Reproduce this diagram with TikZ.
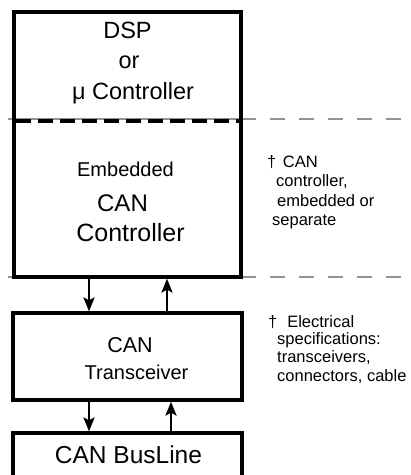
\documentclass[tikz,border=0pt]{standalone}
\usepackage{fontspec}
\setmainfont{Liberation Sans}
\usetikzlibrary{arrows.meta}

\tikzset{
  block/.style={draw=black, line width=3.2bp, inner sep=0pt},
  flow/.style={line width=2.4bp, -{Stealth[length=14bp,width=11bp,inset=3bp]}},
  divider/.style={black, line width=4bp, dash pattern=on 15bp off 7bp},
  guide/.style={gray!85, line width=1.3bp},
  guidedash/.style={guide, dash pattern=on 15bp off 14bp},
  lbl/.style={anchor=base, inner sep=0pt, text=black},
  note/.style={anchor=base west, inner sep=0pt, text=black,
    font=\fontsize{16.5bp}{18bp}\selectfont},
}

\begin{document}
\begin{tikzpicture}[x=1bp, y=-1bp]
  \clip (0,0) rectangle (410,475);
  \fill[white] (0,0) rectangle (410,475);

  % horizontal guide lines marking the layer boundaries
  \coordinate (gl1) at (8,119);
  \coordinate (gr1) at (410,119);
  \coordinate (gl2) at (8,277);
  \coordinate (gr2) at (410,277);
  \coordinate (bx) at (241,0);
  \draw[guide] (gl1) -- (gl1 -| bx);
  \draw[guidedash] (gl1 -| bx) -- (gr1);
  \draw[guide] (gl2) -- (gl2 -| bx);
  \draw[guidedash] (gl2 -| bx) -- (gr2);

  % blocks
  \node[block, minimum width=227bp, minimum height=265bp] (host) at (127.5,144.5) {};
  \node[block, minimum width=229bp, minimum height=87bp] (xcvr) at (127.5,356.5) {};
  \node[block, minimum width=229bp, minimum height=80bp] (bus) at (127.5,473) {};

  % split between processor and embedded controller
  \coordinate (dl) at (15.5,121);
  \coordinate (dr) at (239.5,121);
  \draw[divider] (dl) -- (dr);

  % texts inside the blocks
  \node[lbl, font=\fontsize{23.5bp}{26bp}\selectfont] (dsp) at (127.5,39) {DSP};
  \node[lbl, font=\fontsize{23.5bp}{26bp}\selectfont] (or) at (129,69) {or};
  \node[lbl, font=\fontsize{23.5bp}{26bp}\selectfont] (mcu) at (133,100) {μ Controller};
  \node[lbl, font=\fontsize{20bp}{22bp}\selectfont] (emb) at (125.5,177) {Embedded};
  \node[lbl, font=\fontsize{24bp}{26bp}\selectfont] (can) at (122.5,212) {CAN};
  \node[lbl, font=\fontsize{25bp}{27bp}\selectfont] (ctrl) at (130.5,241) {Controller};
  \node[lbl, font=\fontsize{21.5bp}{24bp}\selectfont] (tcan) at (130,352) {CAN};
  \node[lbl, font=\fontsize{20bp}{22bp}\selectfont] (trx) at (136.5,379) {Transceiver};
  \node[lbl, font=\fontsize{24.5bp}{26bp}\selectfont] (busl) at (128.5,463) {CAN BusLine};

  % data paths between the blocks
  \coordinate (c1) at (89,0);
  \coordinate (c2) at (167,0);
  \coordinate (c3) at (89,0);
  \coordinate (c4) at (171,0);
  \draw[flow] (host.south -| c1) -- (xcvr.north -| c1);
  \draw[flow] (xcvr.north -| c2) -- (host.south -| c2);
  \draw[flow] (xcvr.south -| c3) -- (bus.north -| c3);
  \draw[flow] (bus.north -| c4) -- (xcvr.south -| c4);

  % side notes
  \node[note] (n1) at (267,168) {†\hspace{0.4em}CAN};
  \node[note] (n2) at (276,187) {controller,};
  \node[note] (n3) at (277,207) {embedded or};
  \node[note] (n4) at (272,226) {separate};
  \node[note] (m1) at (268,327) {†\hspace{0.6em}Electrical};
  \node[note] (m2) at (277,344) {specifications:};
  \node[note] (m3) at (277,362) {transceivers,};
  \node[note] (m4) at (277,381) {connectors, cable};
\end{tikzpicture}
\end{document}
